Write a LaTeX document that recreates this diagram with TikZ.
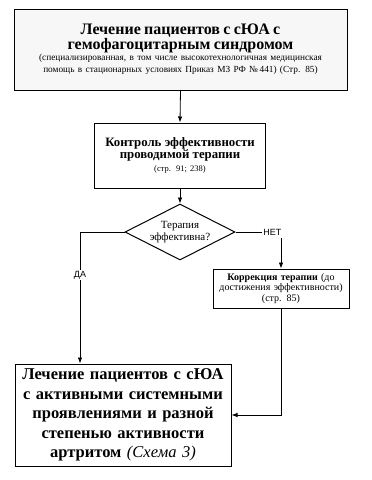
\documentclass[tikz,border=0pt]{standalone}
\usepackage{fontspec}
\setmainfont{Liberation Serif}
\newfontfamily\arialf{Liberation Sans}
\usetikzlibrary{shapes.geometric,arrows.meta}
\begin{document}
\begin{tikzpicture}[x=1pt,y=-1pt,
  box/.style={draw,line width=1pt,align=center,inner sep=2pt},
  conn/.style={line width=0.8pt},
  arr/.style={conn,-{Latex[length=6pt,width=4.5pt]}},
  lbl/.style={font=\arialf\fontsize{9}{10}\selectfont,inner sep=1pt}]
\useasboundingbox (0,0) rectangle (372,480);
\node[box,fill=gray!6,minimum width=333pt,minimum height=81pt,text width=325pt] (top) at (180.5,49.5)
 {{\bfseries\fontsize{16}{15.5}\selectfont Лечение пациентов с сЮА с\\гемофагоцитарным синдромом}\\[1pt]
  {\fontsize{9.3}{10.5}\selectfont (специализированная, в том числе высокотехнологичная медицинская\\помощь в стационарных условиях Приказ МЗ РФ №\,441) (Стр. 85)}};
\node[box,fill=white,minimum width=171pt,minimum height=65pt,text width=165pt] (ctrl) at (180,155.5)
 {{\bfseries\fontsize{12.8}{13}\selectfont Контроль эффективности\\проводимой терапии}\\[1pt]
  {\fontsize{8.5}{9.5}\selectfont (стр. 91; 238)}};
\node[draw,line width=1pt,diamond,aspect=2,inner sep=0pt,minimum width=110pt,minimum height=56pt,align=center,font=\fontsize{11}{12.5}\selectfont] (dia) at (180,232)
 {Терапия\\эффективна?};
\node[box,fill=white,minimum width=136pt,minimum height=39pt,text width=134pt,inner sep=1pt,font=\fontsize{10}{10.8}\selectfont] (corr) at (281,288.5)
 {\textbf{Коррекция терапии} (до\\достижения эффективности)\\(стр. 85)};
\node[box,fill=white,minimum width=216pt,minimum height=102pt,text width=210pt,font=\bfseries\fontsize{16.5}{19.5}\selectfont] (res) at (123,415)
 {Лечение пациентов с сЮА\\с активными системными\\проявлениями и разной\\степенью активности\\артритом \textnormal{\itshape(Схема 3)}};
\coordinate (dl) at (80,232);
\coordinate (dr) at (262,232);
\coordinate (nd) at (281,238);
\draw[arr] (top.south) -- (ctrl.north);
\draw[arr] (ctrl.south) -- (dia.north);
\draw[conn] (dia.west) -- (dl);
\draw[arr] (dl) -- (dl |- res.north) node[lbl,pos=0.33,fill=white] (da) {ДА};
\draw[conn] (dia.east) -- (dr) node[lbl,anchor=west,inner sep=1pt] (net) {НЕТ};
\draw[arr] (nd) -- (corr.north);
\draw[arr] (corr.south) |- (res.east);
\end{tikzpicture}
\end{document}
